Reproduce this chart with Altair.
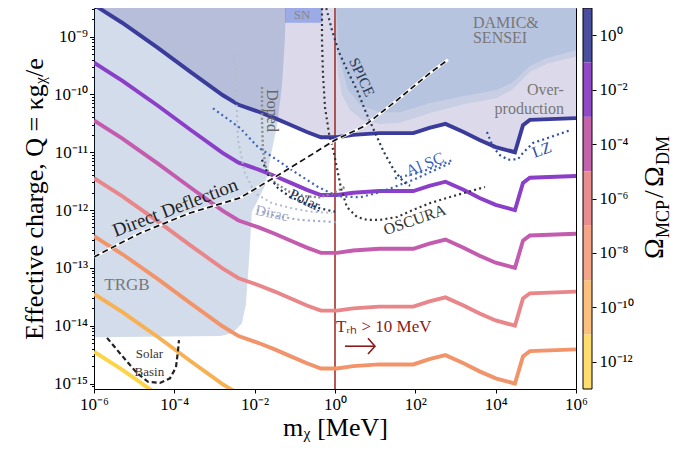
import altair as alt
import pandas as pd

SERIF = "Liberation Serif"

# ---------------- data (log10 values) ----------------
# Omega_MCP/Omega_DM contours: log10(m [MeV]) and log10(Q)
LOG_M = [-6.0, -5.3, -4.4, -3.6, -2.8, -2.4, -1.9, -1.5, -1.1, -0.7, -0.35, 0.05,
         0.45, 1.1, 1.95, 2.35, 2.75, 3.2, 3.6, 4.0, 4.48, 4.68, 4.85, 6.0]
LOGQ_OM_0 = [-8.45, -8.76, -9.20, -9.61, -10.01, -10.18, -10.30, -10.41, -10.53, -10.65, -10.74, -10.74,
             -10.70, -10.67, -10.67, -10.58, -10.51, -10.65, -10.79, -10.91, -11.00, -10.53, -10.44, -10.41]
LOGQ_OM_2 = [-9.45, -9.76, -10.20, -10.61, -11.01, -11.18, -11.30, -11.41, -11.53, -11.65, -11.74, -11.74,
             -11.70, -11.67, -11.67, -11.58, -11.51, -11.65, -11.79, -11.91, -12.00, -11.53, -11.44, -11.41]
LOGQ_OM_4 = [-10.45, -10.76, -11.20, -11.61, -12.01, -12.18, -12.30, -12.41, -12.53, -12.65, -12.74, -12.74,
             -12.70, -12.67, -12.67, -12.58, -12.51, -12.65, -12.79, -12.91, -13.00, -12.53, -12.44, -12.41]
LOGQ_OM_6 = [-11.45, -11.76, -12.20, -12.61, -13.01, -13.18, -13.30, -13.41, -13.53, -13.65, -13.74, -13.74,
             -13.70, -13.67, -13.67, -13.58, -13.51, -13.65, -13.79, -13.91, -14.00, -13.53, -13.44, -13.41]
LOGQ_OM_8 = [-12.45, -12.76, -13.20, -13.61, -14.01, -14.18, -14.30, -14.41, -14.53, -14.65, -14.74, -14.74,
             -14.70, -14.67, -14.67, -14.58, -14.51, -14.65, -14.79, -14.91, -15.00, -14.53, -14.44, -14.41]
LOGQ_OM_10 = [-13.45, -13.76, -14.20, -14.61, -15.01, -15.18, -15.30, -15.41, -15.53, -15.65, -15.74, -15.74,
              -15.70, -15.67, -15.67, -15.58, -15.51, -15.65, -15.79, -15.91, -16.00, -15.53, -15.44, -15.41]
LOGQ_OM_12 = [-14.45, -14.76, -15.20, -15.61, -16.01, -16.18, -16.30, -16.41, -16.53, -16.65, -16.74, -16.74,
              -16.70, -16.67, -16.67, -16.58, -16.51, -16.65, -16.79, -16.91, -17.00, -16.53, -16.44, -16.41]
CURVE_NAMES = ["1e0", "1e-2", "1e-4", "1e-6", "1e-8", "1e-10", "1e-12"]
CURVE_LOGQ = [LOGQ_OM_0, LOGQ_OM_2, LOGQ_OM_4, LOGQ_OM_6, LOGQ_OM_8, LOGQ_OM_10, LOGQ_OM_12]
CURVE_COLORS = ["#3b3b9b", "#8b3ec8", "#c35cae", "#e8868a", "#f2946a", "#f7b052", "#fcd446"]

# colour-bar bands (Omega ratio)
CB_TOP = [1e1, 1e-1, 1e-3, 1e-5, 1e-7, 1e-9, 1e-11]
CB_BOT = [1e-1, 1e-3, 1e-5, 1e-7, 1e-9, 1e-11, 1e-13]
CB_COLORS = ["#4a4e9e", "#9148c8", "#c463ab", "#e88c90", "#f6a488", "#fcc07e", "#fedc6e"]
CB_TICKS = [1e0, 1e-2, 1e-4, 1e-6, 1e-8, 1e-10, 1e-12]

# excluded regions (lower boundary, log10)
TRGB_LM = [-6.0, -2.86, -2.56, -2.32, -2.22, -2.14, -2.07, -1.92, -1.74, -1.57, -1.44, -1.32, -1.25, -1.22]
TRGB_LQ = [-14.20, -14.18, -14.13, -13.96, -13.64, -12.87, -12.03, -11.83, -11.57, -10.96, -10.53, -9.84, -9.06, -8.42]
DAMIC_LM = [-0.025, 0.025, 0.075, 0.175, 0.37, 0.67, 1.12, 1.62, 2.36, 3.19, 4.03, 4.41, 4.85, 5.28, 6.02]
DAMIC_LQ = [-8.42, -9.06, -9.66, -10.01, -10.27, -10.44, -10.51, -10.49, -10.32, -10.17, -10.06, -9.92, -9.61, -9.47, -9.34]
SENSEI_LM = [0.025, 0.12, 0.32, 0.62, 1.12, 1.62, 2.36, 3.19, 4.03, 4.41, 4.85, 5.28, 6.02]
SENSEI_LQ = [-8.42, -9.40, -9.92, -10.18, -10.31, -10.31, -10.15, -10.03, -9.92, -9.80, -9.51, -9.37, -9.23]
SN_LM = [-1.245, -0.32]
SN_LQ_LOW = -8.76
TOP_LQ = -8.3

# projected / other limits
SPICE_LM = [-0.249, -0.075, 0.099, 0.323, 0.572, 0.746, 0.970, 1.219, 1.468, 1.717, 1.867]
SPICE_LQ = [-8.42, -8.89, -9.27, -9.61, -9.96, -10.27, -10.62, -11.00, -11.31, -11.52, -11.58]
OSCURA_LM = [-0.324, -0.324, -0.299, -0.249, -0.150, -0.025, 0.074, 0.149, 0.298, 0.547, 0.796, 1.120,
             1.543, 1.941, 2.364, 2.788, 3.186, 3.734]
OSCURA_LQ = [-8.42, -9.06, -9.66, -10.22, -10.67, -11.02, -11.36, -11.62, -11.95, -12.12, -12.17, -12.17,
             -12.12, -12.00, -11.88, -11.79, -11.71, -11.60]
DOPED_LM = [-1.818, -1.818, -1.793, -1.718, -1.494, -1.121, -0.747, -0.374, -0.050, 0.248]
DOPED_LQ = [-9.87, -10.44, -10.96, -11.27, -11.53, -11.69, -11.76, -11.78, -11.71, -11.60]
DIRAC_LM = [-2.490, -2.465, -2.415, -2.241, -1.992, -1.569, -1.071, -0.573, -0.075]
DIRAC_LQ = [-9.28, -9.92, -10.79, -11.36, -11.71, -11.88, -11.97, -12.03, -12.05]
DIRAC2_LM = [-1.94, -1.49, -0.87, 0.05]
DIRAC2_LQ = [-12.00, -12.10, -12.17, -12.21]
POLAR_LM = [-1.818, -1.668, -1.420, -1.121, -0.747, -0.374, -0.001]
POLAR_LQ = [-11.13, -11.39, -11.62, -11.77, -11.88, -11.97, -12.03]
ALSC_LM = [-3.038, -2.365, -1.917, -1.071, -0.424, 0.049, 0.622, 1.120, 1.941, 2.862]
ALSC_LQ = [-10.24, -10.58, -10.91, -11.31, -11.60, -11.76, -11.78, -11.69, -11.48, -11.19]
ALSC2_LM = [1.493, 2.115, 2.912]
ALSC2_LQ = [-11.45, -11.35, -11.14]
LZ_LM = [3.783, 3.933, 4.107, 4.306, 4.555, 4.680, 4.929, 5.352, 5.850]
LZ_LQ = [-10.65, -10.91, -11.05, -11.13, -11.12, -11.01, -10.84, -10.74, -10.62]
DEFL_LM = [-6.0, -4.855, -3.610, -2.365, -1.494, -0.673, -0.001, 0.697, 1.543, 2.364, 2.813]
DEFL_LQ = [-12.81, -12.40, -12.05, -11.79, -11.43, -11.08, -10.79, -10.56, -10.10, -9.63, -9.40]
SOLAR_LM = [-5.676, -5.278, -4.930, -4.656, -4.357, -4.108, -3.959, -3.909, -3.884]
SOLAR_LQ = [-14.21, -14.54, -14.82, -14.97, -14.99, -14.91, -14.72, -14.43, -14.25]
ARROW_LM = [0.248, 0.995]
ARROW_LQ = [-14.355, -14.355]
ARROWHEAD_LM = [0.821, 0.995, 0.821]
ARROWHEAD_LQ = [-14.217, -14.355, -14.49]

# ---------------- scales & axes ----------------
Y_LO, Y_HI = 10 ** -15.095, 10 ** -8.505
xs = alt.Scale(type="log", domain=[1e-6, 1e6], nice=False)
ys = alt.Scale(type="log", domain=[Y_LO, Y_HI], nice=False)

SUP = str.maketrans("-0123456789", "⁻⁰¹²³⁴⁵⁶⁷⁸⁹")


def dec(e):
    return "10" + str(e).translate(SUP)


x_expr = "[" + ",".join(f"'{dec(e)}'" for e in range(-6, 7)) + "][round(log(datum.value)/LN10)+6]"
is_major = "abs(log(datum.value)/LN10 - round(log(datum.value)/LN10)) < 0.01"
y_expr = (f"{is_major} ? [" + ",".join(f"'{dec(e)}'" for e in range(-15, -8))
          + "][round(log(datum.value)/LN10)+15] : ''")
y_ticks = []
for e in range(-16, -8):
    for k in range(1, 10):
        v = k * 10.0 ** e
        if Y_LO <= v <= Y_HI:
            y_ticks.append(v)

xaxis = alt.Axis(values=[10.0 ** e for e in range(-6, 7, 2)], labelExpr=x_expr, grid=False,
                 domain=False, tickSize=4, tickColor="black", labelFlush=False, labelOverlap=False,
                 labelFont=SERIF, labelFontSize=17, labelColor="black", labelPadding=3,
                 titleFont=SERIF, titleFontSize=26, titleFontWeight="normal", titleColor="black",
                 titlePadding=2)
yaxis = alt.Axis(values=y_ticks, labelExpr=y_expr, grid=False, domain=False,
                 tickSize={"condition": {"test": is_major, "value": 4.5}, "value": 2.5},
                 tickColor="black", labelFlush=False, labelOverlap=False,
                 labelFont=SERIF, labelFontSize=17, labelColor="black", labelPadding=2,
                 titleFont=SERIF, titleFontSize=26, titleFontWeight="normal", titleColor="black",
                 titlePadding=6, orient="left")

X = alt.X("m:Q", scale=xs, axis=xaxis, title="mᵪ [MeV]")
Y = alt.Y("q:Q", scale=ys, axis=yaxis, title="Effective charge, Q = κgᵪ/e")


def frame(lm, lq, **extra):
    d = {"m": [10 ** v for v in lm], "q": [10 ** v for v in lq], "i": list(range(len(lm)))}
    d.update(extra)
    return pd.DataFrame(d)


def region(lm, lq, color, opacity):
    df = frame(lm, lq, q2=[10 ** TOP_LQ] * len(lm))
    return alt.Chart(df).mark_area(color=color, opacity=opacity, clip=True, interpolate="linear").encode(
        x=X, y=Y, y2="q2:Q")


def curve(lm, lq, color, width=2.0, dash=None, opacity=1.0, cap="butt"):
    kw = dict(color=color, strokeWidth=width, clip=True, opacity=opacity, strokeCap=cap)
    if dash:
        kw["strokeDash"] = dash
    return alt.Chart(frame(lm, lq)).mark_line(**kw).encode(x=X, y=Y, order="i:Q")


def label(txt, lm, lq, size=14, color="#555555", angle=0, align="center", style="normal"):
    df = pd.DataFrame({"m": [10 ** lm], "q": [10 ** lq], "t": [txt]})
    return alt.Chart(df).mark_text(font=SERIF, fontSize=size, color=color, angle=angle % 360,
                                   align=align, baseline="middle", fontStyle=style).encode(
        x=X, y=Y, text="t:N")


layers = []
# over-production (above Omega = 1 contour)
layers.append(region(LOG_M, LOGQ_OM_0, "#dcdaea", 1.0))
layers.append(region(TRGB_LM, TRGB_LQ, "#235096", 0.2))
layers.append(alt.Chart(pd.DataFrame({"m": [1.0]})).mark_rule(color="#a3302c", strokeWidth=1.6).encode(x=X))
layers.append(region(DAMIC_LM, DAMIC_LQ, "#6497c9", 0.17))
layers.append(region(SENSEI_LM, SENSEI_LQ, "#6497c9", 0.17))
sn_df = pd.DataFrame({"m": [10 ** SN_LM[0]], "m2": [10 ** SN_LM[1]], "q": [10 ** SN_LQ_LOW], "q2": [10 ** TOP_LQ]})
layers.append(alt.Chart(sn_df).mark_rect(color="#4d6fe0", opacity=0.45, clip=True).encode(
    x=X, x2="m2:Q", y=Y, y2="q2:Q"))

# relic contours
rows = []
for name, lqs in zip(CURVE_NAMES, CURVE_LOGQ):
    for i, (a, b) in enumerate(zip(LOG_M, lqs)):
        rows.append({"series": name, "m": 10 ** a, "q": 10 ** b, "i": i})
layers.append(alt.Chart(pd.DataFrame(rows)).mark_line(strokeWidth=3.9, clip=True).encode(
    x=X, y=Y, order="i:Q",
    color=alt.Color("series:N", scale=alt.Scale(domain=CURVE_NAMES, range=CURVE_COLORS), legend=None)))

# dotted / dashed limits
DOT = [2, 3.2]
layers.append(curve(DIRAC_LM, DIRAC_LQ, "#b4bccf", 2.0, DOT))
layers.append(curve(DIRAC2_LM, DIRAC2_LQ, "#9aa6c4", 2.0, DOT))
layers.append(curve(DOPED_LM, DOPED_LQ, "#8c8c8c", 2.4, [2, 2.4]))
layers.append(curve(POLAR_LM, POLAR_LQ, "#1f2e55", 2.2, DOT))
layers.append(curve(ALSC_LM, ALSC_LQ, "#3f62bd", 2.2, DOT))
layers.append(curve(ALSC2_LM, ALSC2_LQ, "#3f62bd", 2.2, DOT))
layers.append(curve(SPICE_LM, SPICE_LQ, "#2a3a5a", 2.2, DOT))
layers.append(curve(OSCURA_LM, OSCURA_LQ, "#333333", 2.2, DOT))
layers.append(curve(LZ_LM, LZ_LQ, "#3050a0", 2.2, DOT))
layers.append(curve(DEFL_LM, DEFL_LQ, "white", 3.0))
layers.append(curve(DEFL_LM, DEFL_LQ, "#111111", 1.7, [6, 3.5]))
layers.append(curve(SOLAR_LM, SOLAR_LQ, "#222222", 2.2, [5, 3]))
layers.append(curve(ARROW_LM, ARROW_LQ, "#8b1a1a", 1.6))
layers.append(curve(ARROWHEAD_LM, ARROWHEAD_LQ, "#8b1a1a", 1.6))

# labels
layers += [
    label("TRGB", -5.18, -13.30, 17, "#777777"),
    label("Solar", -4.62, -14.49, 13, "#333333"),
    label("Basin", -4.62, -14.80, 13, "#333333"),
    label("Direct Deflection", -3.98, -11.96, 19, "#222222", angle=-21),
    label("Dirac", -1.57, -12.05, 15, "#a0a8c8", angle=12),
    label("Polar.", -0.72, -11.83, 15, "#1f2e55", angle=25),
    label("Doped", -1.57, -10.28, 16, "#666666", angle=90),
    label("SPICE", 0.67, -9.70, 15, "#2a3a5a", angle=65),
    label("Al SC", 2.24, -11.21, 16, "#4060c0", angle=-22),
    label("OSCURA", 1.99, -12.17, 16, "#333333", angle=-19),
    label("LZ", 5.15, -10.96, 16, "#3050a0", angle=-20),
    label("DAMIC&", 3.435, -8.765, 16, "#777777", align="left"),
    label("SENSEI", 3.435, -9.03, 16, "#777777", align="left"),
    label("Over-", 5.70, -9.93, 16, "#777777", align="right"),
    label("production", 5.70, -10.26, 16, "#777777", align="right"),
    label("SN", -0.82, -8.63, 13, "#888888"),
    label("Tᵣₕ > 10 MeV", 0.024, -14.02, 17, "#8b1a1a", align="left"),
]
main = alt.layer(*layers)

# colour bar
cb_df = pd.DataFrame({"top": CB_TOP, "bot": CB_BOT, "c": CB_COLORS})
cb_axis = alt.Axis(orient="right", offset=16, values=CB_TICKS, title=None, grid=False, domain=False,
                   labelExpr="[" + ",".join(f"'{dec(e)}'" for e in range(-12, 1)) + "][round(log(datum.value)/LN10)+12]",
                   tickSize=4, tickColor="black", labelFont=SERIF, labelFontSize=17, labelColor="black",
                   labelPadding=3, labelFlush=False, labelOverlap=False)
cb_scale = alt.Scale(type="log", domain=[1e-13, 1e1], nice=False)
cb_rect = alt.Chart(cb_df).mark_rect().encode(
    x=alt.value(489), x2=alt.value(498),
    y=alt.Y("top:Q", scale=cb_scale, axis=cb_axis), y2="bot:Q",
    color=alt.Color("c:N", scale=None))
cb_frame = alt.Chart(pd.DataFrame({"a": [0]})).mark_rect(fill=None, stroke="black", strokeWidth=1).encode(
    x=alt.value(489), x2=alt.value(498), y=alt.value(0), y2=alt.value(381))


def cb_title(txt, px, py, size):
    return alt.Chart(pd.DataFrame({"t": [txt]})).mark_text(
        font=SERIF, fontSize=size, angle=270, align="left", baseline="alphabetic", color="black").encode(
        x=alt.value(px), y=alt.value(py), text="t:N")


cbar = alt.layer(cb_rect, cb_frame,
                 cb_title("Ω", 569, 251, 28), cb_title("MCP", 575, 230, 18),
                 cb_title("/", 569, 190, 28), cb_title("Ω", 569, 179, 28),
                 cb_title("DM", 575, 157, 18))

chart = alt.layer(main, cbar).resolve_scale(y="independent").properties(
    width=482, height=381,
    padding={"left": 86, "top": 0, "right": 100, "bottom": 55},
    autosize=alt.AutoSizeParams(type="none"),
).configure_view(stroke="black", strokeWidth=1)

chart.save("out.html", embed_options={"renderer": "svg", "actions": False})
